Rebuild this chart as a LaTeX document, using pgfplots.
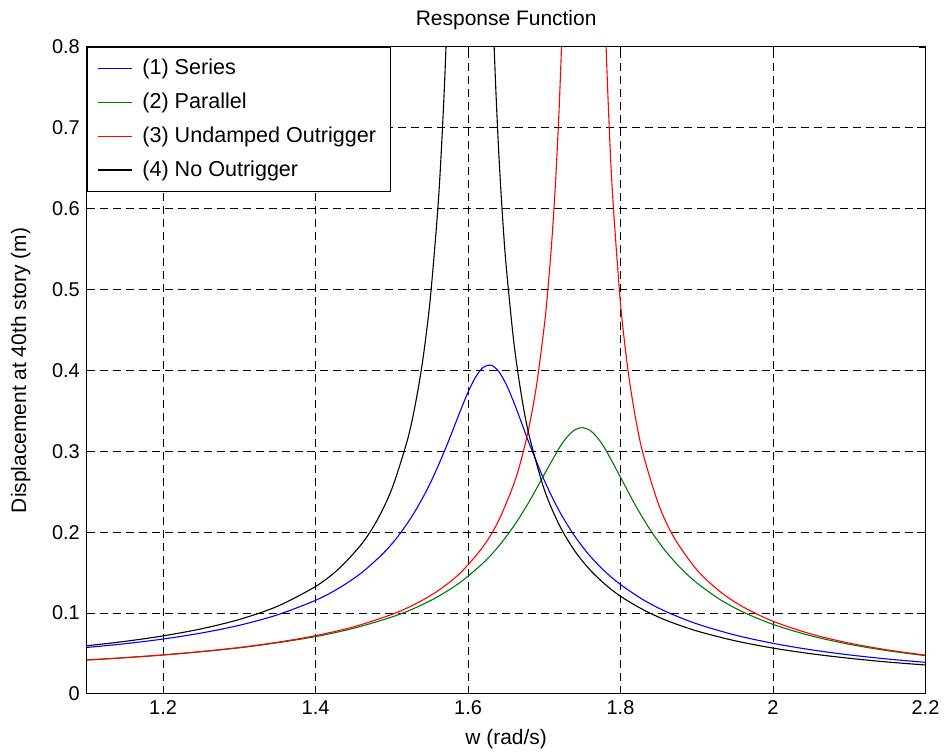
\documentclass[border=0pt]{standalone}
\usepackage{pgfplots}
\pgfplotsset{compat=1.18}
\usepackage{fontspec}
\setmainfont{Liberation Sans}
\definecolor{cSeries}{RGB}{0,0,255}
\definecolor{cParallel}{RGB}{0,120,0}
\definecolor{cUndamped}{RGB}{255,0,0}
\definecolor{cNone}{RGB}{0,0,0}
\begin{document}
\begin{tikzpicture}
\path (-43.5pt,-29pt) rectangle (429.5pt,347.5pt);
\begin{axis}[
  at={(0,0)}, anchor=south west,
  scale only axis,
  width=420pt, height=324pt,
  xmin=1.1, xmax=2.2, ymin=0, ymax=0.8,
  xtick={1.2,1.4,1.6,1.8,2.0,2.2},
  xticklabels={1.2,1.4,1.6,1.8,2,2.2},
  ytick={0,0.1,0.2,0.3,0.4,0.5,0.6,0.7,0.8},
  yticklabels={0,0.1,0.2,0.3,0.4,0.5,0.6,0.7,0.8},
  tick align=inside,
  major tick length=3pt,
  xtick pos=both, ytick pos=both,
  tick style={black, line width=0.4pt},
  grid=major,
  major grid style={black, line width=0.45pt, dash pattern=on 4pt off 2.5pt},
  axis line style={black, line width=0.5pt},
  ticklabel style={font=\fontsize{10}{12}\selectfont},
  /pgf/number format/assume math mode=true,
  title={Response Function},
  title style={font=\fontsize{10.5}{12}\selectfont, at={(axis description cs:0.5,1.023)}, anchor=center},
  xlabel={w (rad/s)},
  xlabel style={font=\fontsize{10.5}{12}\selectfont, at={(axis description cs:0.5,-0.078)}, anchor=base},
  ylabel={Displacement at 40th story (m)},
  ylabel style={font=\fontsize{10.5}{12}\selectfont, at={(axis description cs:-0.079,0.5)}, anchor=center, rotate=0},
  unbounded coords=jump,
  legend style={at={(0,1)}, anchor=north west, fill=white,
    font=\fontsize{10.8}{12}\selectfont, row sep=3.6pt, inner xsep=5pt, inner ysep=4pt,
    /tikz/every odd column/.append style={column sep=3pt}},
  legend cell align=left,
]
% (1) Series
\addplot[color=cSeries, line width=0.55pt, smooth] coordinates {
(1.10,0.0574)(1.15,0.0620)(1.20,0.0678)(1.25,0.0752)(1.30,0.0848)(1.35,0.0977)
(1.40,0.1157)(1.43,0.1304)(1.46,0.1495)(1.49,0.1750)(1.51,0.1972)(1.53,0.2250)
(1.55,0.2597)(1.57,0.3023)(1.59,0.3502)(1.60,0.3730)(1.61,0.3919)(1.62,0.4039)
(1.63,0.4065)(1.64,0.3990)(1.65,0.3828)(1.66,0.3607)(1.67,0.3357)(1.68,0.3102)
(1.70,0.2640)(1.72,0.2255)(1.74,0.1950)(1.76,0.1705)(1.78,0.1510)(1.80,0.1352)
(1.83,0.1162)(1.86,0.1016)(1.90,0.0866)(1.95,0.0728)(2.00,0.0625)(2.05,0.0545)
(2.10,0.0482)(2.15,0.0431)(2.20,0.0390)
};
\addlegendentry{(1) Series}
% (2) Parallel
\addplot[color=cParallel, line width=0.55pt, smooth] coordinates {
(1.10,0.0418)(1.15,0.0447)(1.20,0.0480)(1.25,0.0521)(1.30,0.0569)(1.35,0.0632)
(1.40,0.0708)(1.45,0.0811)(1.50,0.0950)(1.53,0.1060)(1.56,0.1200)(1.59,0.1381)
(1.62,0.1620)(1.64,0.1824)(1.66,0.2074)(1.68,0.2374)(1.70,0.2714)(1.72,0.3046)
(1.73,0.3177)(1.74,0.3265)(1.75,0.3293)(1.76,0.3258)(1.77,0.3164)(1.78,0.3027)
(1.80,0.2678)(1.82,0.2324)(1.84,0.2013)(1.86,0.1755)(1.88,0.1545)(1.90,0.1373)
(1.93,0.1170)(1.96,0.1015)(2.00,0.0859)(2.05,0.0717)(2.10,0.0613)(2.15,0.0534)
(2.20,0.0472)
};
\addlegendentry{(2) Parallel}
% (3) Undamped Outrigger
\addplot[color=cUndamped, line width=0.55pt, smooth] coordinates {
(1.10,0.0419)(1.15,0.0448)(1.20,0.0482)(1.25,0.0524)(1.30,0.0574)(1.35,0.0638)
(1.40,0.0720)(1.45,0.0829)(1.50,0.0982)(1.53,0.1107)(1.56,0.1271)(1.59,0.1496)
(1.62,0.1824)(1.64,0.2140)(1.66,0.2594)(1.67,0.2905)(1.68,0.3301)(1.69,0.3825)
(1.70,0.4550)(1.705,0.5028)(1.71,0.5619)(1.715,0.6370)(1.72,0.7354)(1.725,0.8711)
(1.73,1.068)
(1.75,nan)
(1.775,1.013)(1.78,0.8312)(1.785,0.7043)(1.79,0.6109)(1.80,0.4825)(1.81,0.3988)
(1.82,0.3394)(1.83,0.2953)(1.85,0.2341)(1.87,0.1936)(1.90,0.1535)(1.93,0.1269)
(1.96,0.1079)(2.00,0.0898)(2.05,0.0740)(2.10,0.0628)(2.15,0.0544)(2.20,0.0479)
};
\addlegendentry{(3) Undamped Outrigger}
% (4) No Outrigger
\addplot[color=cNone, line width=0.55pt, smooth] coordinates {
(1.10,0.0595)(1.15,0.0649)(1.20,0.0717)(1.25,0.0804)(1.30,0.0920)(1.35,0.1083)
(1.40,0.1328)(1.43,0.1543)(1.46,0.1848)(1.48,0.2135)(1.50,0.2533)(1.52,0.3123)
(1.53,0.3539)(1.54,0.4088)(1.55,0.4844)(1.56,0.5952)(1.565,0.6725)(1.57,0.7734)
(1.575,0.9096)(1.58,1.106)
(1.60,nan)
(1.625,1.140)(1.63,0.9273)(1.635,0.7811)(1.64,0.6745)(1.645,0.5933)(1.65,0.5294)
(1.66,0.4352)(1.67,0.3691)(1.68,0.3202)(1.70,0.2526)(1.72,0.2082)(1.74,0.1767)
(1.76,0.1533)(1.78,0.1352)(1.80,0.1207)(1.83,0.1039)(1.86,0.0909)(1.90,0.0778)
(1.95,0.0657)(2.00,0.0566)(2.05,0.0496)(2.10,0.0440)(2.15,0.0394)(2.20,0.0357)
};
\addlegendentry{(4) No Outrigger}
\end{axis}
\end{tikzpicture}
\end{document}
